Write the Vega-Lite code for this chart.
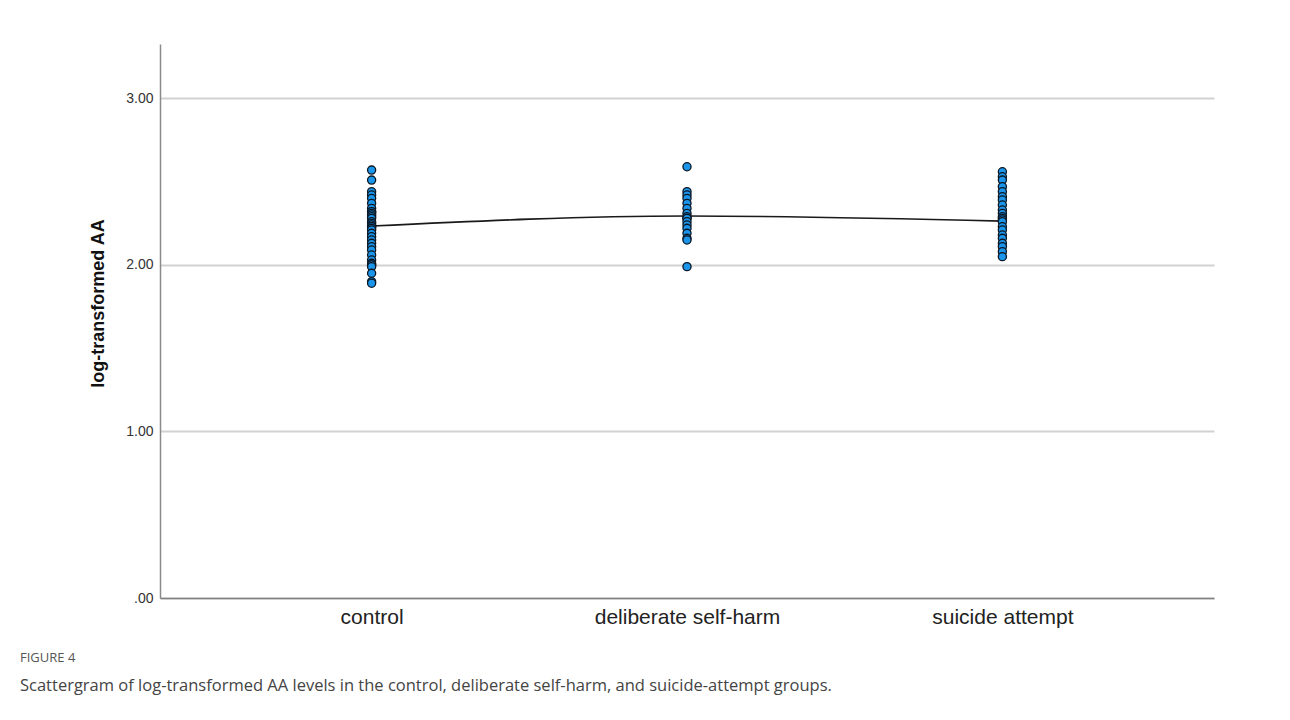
{
  "$schema": "https://vega.github.io/schema/vega-lite/v6.json",
  "width": 1054,
  "height": 554,
  "autosize": {"type": "none"},
  "padding": {"left": 160, "top": 44, "right": 76, "bottom": 122},
  "background": "white",
  "datasets": {
    "obs": [
      {"group": "control", "aa": 2.57}, {"group": "control", "aa": 2.51}, {"group": "control", "aa": 2.44},
      {"group": "control", "aa": 2.42}, {"group": "control", "aa": 2.40}, {"group": "control", "aa": 2.37},
      {"group": "control", "aa": 2.34}, {"group": "control", "aa": 2.32}, {"group": "control", "aa": 2.32},
      {"group": "control", "aa": 2.31}, {"group": "control", "aa": 2.30}, {"group": "control", "aa": 2.29},
      {"group": "control", "aa": 2.28}, {"group": "control", "aa": 2.26}, {"group": "control", "aa": 2.25},
      {"group": "control", "aa": 2.24}, {"group": "control", "aa": 2.23}, {"group": "control", "aa": 2.23},
      {"group": "control", "aa": 2.22}, {"group": "control", "aa": 2.21}, {"group": "control", "aa": 2.19},
      {"group": "control", "aa": 2.17}, {"group": "control", "aa": 2.15}, {"group": "control", "aa": 2.13},
      {"group": "control", "aa": 2.11}, {"group": "control", "aa": 2.09}, {"group": "control", "aa": 2.06},
      {"group": "control", "aa": 2.03}, {"group": "control", "aa": 2.01}, {"group": "control", "aa": 2.00},
      {"group": "control", "aa": 2.00}, {"group": "control", "aa": 1.99}, {"group": "control", "aa": 1.95},
      {"group": "control", "aa": 1.90}, {"group": "control", "aa": 1.89},
      {"group": "deliberate self-harm", "aa": 2.59}, {"group": "deliberate self-harm", "aa": 2.44},
      {"group": "deliberate self-harm", "aa": 2.42}, {"group": "deliberate self-harm", "aa": 2.40},
      {"group": "deliberate self-harm", "aa": 2.37}, {"group": "deliberate self-harm", "aa": 2.34},
      {"group": "deliberate self-harm", "aa": 2.31}, {"group": "deliberate self-harm", "aa": 2.29},
      {"group": "deliberate self-harm", "aa": 2.28}, {"group": "deliberate self-harm", "aa": 2.28},
      {"group": "deliberate self-harm", "aa": 2.26}, {"group": "deliberate self-harm", "aa": 2.24},
      {"group": "deliberate self-harm", "aa": 2.22}, {"group": "deliberate self-harm", "aa": 2.19},
      {"group": "deliberate self-harm", "aa": 2.16}, {"group": "deliberate self-harm", "aa": 2.15},
      {"group": "deliberate self-harm", "aa": 1.99},
      {"group": "suicide attempt", "aa": 2.56}, {"group": "suicide attempt", "aa": 2.53},
      {"group": "suicide attempt", "aa": 2.51}, {"group": "suicide attempt", "aa": 2.47},
      {"group": "suicide attempt", "aa": 2.44}, {"group": "suicide attempt", "aa": 2.41},
      {"group": "suicide attempt", "aa": 2.39}, {"group": "suicide attempt", "aa": 2.36},
      {"group": "suicide attempt", "aa": 2.33}, {"group": "suicide attempt", "aa": 2.31},
      {"group": "suicide attempt", "aa": 2.29}, {"group": "suicide attempt", "aa": 2.28},
      {"group": "suicide attempt", "aa": 2.27}, {"group": "suicide attempt", "aa": 2.26},
      {"group": "suicide attempt", "aa": 2.23}, {"group": "suicide attempt", "aa": 2.21},
      {"group": "suicide attempt", "aa": 2.18}, {"group": "suicide attempt", "aa": 2.16},
      {"group": "suicide attempt", "aa": 2.13}, {"group": "suicide attempt", "aa": 2.11},
      {"group": "suicide attempt", "aa": 2.08}, {"group": "suicide attempt", "aa": 2.05}
    ],
    "means": [
      {"group": "control", "aa": 2.234},
      {"group": "deliberate self-harm", "aa": 2.294},
      {"group": "suicide attempt", "aa": 2.263}
    ]
  },
  "title": {
    "text": "FIGURE 4",
    "subtitle": "Scattergram of log-transformed AA levels in the control, deliberate self-harm, and suicide-attempt groups.",
    "orient": "bottom",
    "anchor": "start",
    "frame": "group",
    "dx": -140,
    "offset": 25,
    "font": "Open Sans",
    "fontSize": 13,
    "fontWeight": "normal",
    "color": "#555555",
    "subtitleFont": "Open Sans",
    "subtitleFontSize": 16.5,
    "subtitleColor": "#444444",
    "subtitlePadding": 13
  },
  "config": {
    "view": {"stroke": null},
    "axis": {"labelFont": "Liberation Sans", "titleFont": "Liberation Sans"}
  },
  "encoding": {
    "x": {
      "field": "group",
      "type": "nominal",
      "scale": {"type": "point", "padding": 0.671, "domain": ["control", "deliberate self-harm", "suicide attempt"]},
      "axis": {
        "title": null,
        "labelAngle": 0,
        "labelFontSize": 21,
        "labelLimit": 0,
        "labelColor": "#222222",
        "labelPadding": 8,
        "ticks": false,
        "grid": false,
        "domainColor": "#808080",
        "domainWidth": 1.5
      }
    },
    "y": {
      "field": "aa",
      "type": "quantitative",
      "scale": {"domain": [0, 3.327], "nice": false, "zero": true},
      "axis": {
        "title": "log-transformed AA",
        "titleFontSize": 18,
        "titleFontWeight": "bold",
        "titleColor": "#111111",
        "titlePadding": 18,
        "titleY": 259,
        "values": [0, 1, 2, 3],
        "labelExpr": "datum.value == 0 ? '.00' : format(datum.value, '.2f')",
        "labelFontSize": 14,
        "labelColor": "#333333",
        "labelPadding": 7,
        "ticks": false,
        "grid": true,
        "gridColor": "#d2d2d2",
        "gridWidth": 2,
        "domainColor": "#8a8a8a",
        "domainWidth": 1.5
      }
    }
  },
  "layer": [
    {
      "data": {"name": "means"},
      "mark": {"type": "line", "interpolate": "monotone", "color": "#1a1a1a", "strokeWidth": 1.6}
    },
    {
      "data": {"name": "obs"},
      "mark": {"type": "point", "shape": "circle", "filled": true, "size": 66, "fill": "#1a95ea", "stroke": "#0b1622", "strokeWidth": 1.3, "opacity": 1}
    }
  ]
}
